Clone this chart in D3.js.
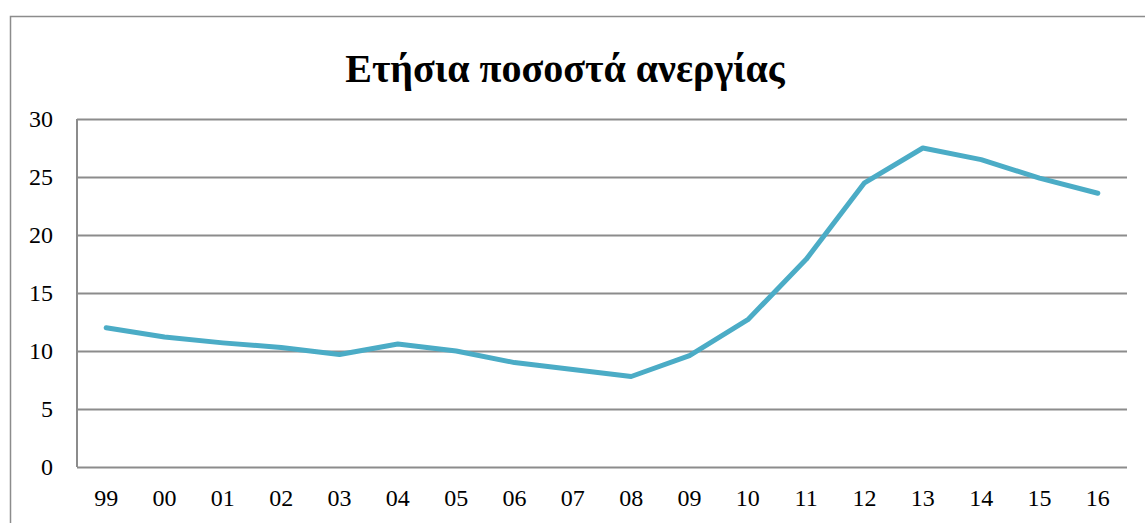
<!DOCTYPE html>
<html><head><meta charset="utf-8">
<script src="https://cdn.jsdelivr.net/npm/d3@7"></script>
<style>html,body{margin:0;padding:0;background:#fff;}svg{display:block;}
svg text{font-family:"Liberation Serif","Times New Roman",Tinos,"DejaVu Serif",serif;}</style>
</head><body>
<svg id="chart" width="1145" height="523"></svg>
<script>
const title = "Ετήσια ποσοστά ανεργίας";
const categories = ["99","00","01","02","03","04","05","06","07","08","09","10","11","12","13","14","15","16"];
const values = [12.0,11.2,10.7,10.3,9.7,10.6,10.0,9.0,8.4,7.8,9.6,12.7,17.9,24.5,27.5,26.5,24.9,23.6];
const yTicks = [0,5,10,15,20,25,30];

const svg = d3.select("#chart");
const W = 1145, H = 523;
const plot = {left:77, top:119, right:1127, bottom:467};
const FONT = '"Liberation Serif","Times New Roman",Tinos,"DejaVu Serif",serif';

svg.append("path")
  .attr("d", `M10.5,${H+5} L10.5,16.5 L${W+5},16.5`)
  .attr("fill","none").attr("stroke","#8c8c8c").attr("stroke-width",1.5);

svg.append("text").attr("x", 565).attr("y", 82)
  .attr("text-anchor","middle")
  .style("font-family",FONT)
  .attr("font-weight","bold").attr("font-size",40).attr("fill","#000")
  .text(title);

const x = d3.scaleBand().domain(categories).range([plot.left, plot.right]).padding(0);
const y = d3.scaleLinear().domain([0,30]).range([plot.bottom, plot.top]);

const yAxis = d3.axisLeft(y).tickValues(yTicks).tickSize(-(plot.right-plot.left)).tickPadding(24).tickFormat(d3.format("d"));
const gy = svg.append("g").attr("transform",`translate(${plot.left},0)`).call(yAxis);
gy.select(".domain").remove();
gy.selectAll(".tick line").attr("stroke","#8c8c8c").attr("stroke-width",2);
gy.selectAll(".tick text").style("font-family",FONT).attr("font-size",24).attr("fill","#000");
gy.attr("font-family",null);

svg.append("line").attr("x1",plot.left).attr("x2",plot.left).attr("y1",plot.top).attr("y2",plot.bottom)
  .attr("stroke","#8c8c8c").attr("stroke-width",2);

const xAxis = d3.axisBottom(x).tickSize(0).tickPadding(22);
const gx = svg.append("g").attr("transform",`translate(0,${plot.bottom})`).call(xAxis);
gx.select(".domain").remove();
gx.selectAll(".tick text").style("font-family",FONT).attr("font-size",24).attr("fill","#000");
gx.attr("font-family",null);

const line = d3.line().x((d,i)=>x(categories[i]) + x.bandwidth()/2).y(d=>y(d));
svg.append("path").datum(values).attr("d",line)
  .attr("fill","none").attr("stroke","#4BACC6").attr("stroke-width",5)
  .attr("stroke-linejoin","round").attr("stroke-linecap","round");
</script>
</body></html>
